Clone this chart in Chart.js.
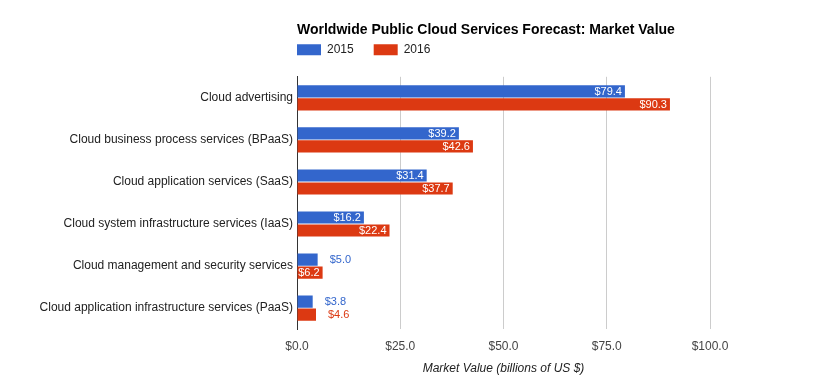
<!DOCTYPE html>
<html>
<head>
<meta charset="utf-8">
<script src="https://cdn.jsdelivr.net/npm/chart.js@4/dist/chart.umd.min.js"></script>
<style>
  html, body { margin: 0; padding: 0; background: #fff; }
  #wrap { position: relative; width: 831px; height: 388px; }
</style>
</head>
<body>
<div id="wrap"><canvas id="chart-cloud"></canvas></div>
<script>
const categories = [
  'Cloud advertising',
  'Cloud business process services (BPaaS)',
  'Cloud application services (SaaS)',
  'Cloud system infrastructure services (IaaS)',
  'Cloud management and security services',
  'Cloud application infrastructure services (PaaS)'
];
const values2015 = [79.4, 39.2, 31.4, 16.2, 5.0, 3.8];
const values2016 = [90.3, 42.6, 37.7, 22.4, 6.2, 4.6];
const xTicks = [0, 25, 50, 75, 100];

const colors = { blue: '#3366cc', red: '#dc3912', grid: '#cccccc', axis: '#333333' };
const fontFamily = 'Arial, "Liberation Sans", sans-serif';
const legendGap = 20;

// value labels: white inside the bar when it fits, coloured outside otherwise
const barLabels = {
  id: 'barLabels',
  afterDatasetsDraw(chart) {
    const ctx = chart.ctx;
    ctx.save();
    ctx.font = '11px ' + fontFamily;
    ctx.textBaseline = 'middle';
    chart.data.datasets.forEach((ds, i) => {
      chart.getDatasetMeta(i).data.forEach((bar, j) => {
        const text = '$' + ds.data[j].toFixed(1);
        const w = bar.x - bar.base;
        if (w >= 24) {
          ctx.fillStyle = '#ffffff';
          ctx.textAlign = 'right';
          ctx.fillText(text, bar.x - 3, bar.y + 0.5);
        } else {
          ctx.fillStyle = ds.backgroundColor;
          ctx.textAlign = 'left';
          ctx.fillText(text, bar.x + 12, bar.y + 0.5);
        }
      });
    });
    ctx.restore();
  }
};

// legend starts flush with the plot's left edge (undo its inner padding)
const legendShift = {
  id: 'legendShift',
  afterLayout(chart) {
    if (chart.legend) chart.legend.left -= legendGap;
  }
};

new Chart(document.getElementById('chart-cloud'), {
  type: 'bar',
  data: {
    labels: categories,
    datasets: [
      { label: '2015', data: values2015, backgroundColor: colors.blue, categoryPercentage: 0.62, barPercentage: 0.93 },
      { label: '2016', data: values2016, backgroundColor: colors.red, categoryPercentage: 0.62, barPercentage: 0.93 }
    ]
  },
  options: {
    indexAxis: 'y',
    responsive: true,
    maintainAspectRatio: false,
    animation: false,
    layout: { padding: { left: 0, right: 121, top: 0, bottom: 12 } },
    plugins: {
      title: {
        display: true,
        text: 'Worldwide Public Cloud Services Forecast: Market Value',
        align: 'start',
        fullSize: false,
        color: '#000000',
        font: { family: fontFamily, size: 14, weight: 'bold' },
        padding: { top: 22, bottom: -15 }
      },
      legend: {
        align: 'start',
        fullSize: false,
        labels: {
          boxWidth: 24,
          boxHeight: 11,
          padding: legendGap,
          color: '#222222',
          font: { family: fontFamily, size: 12 }
        }
      },
      tooltip: { enabled: false }
    },
    scales: {
      x: {
        min: 0,
        max: 100,
        afterBuildTicks: (scale) => { scale.ticks = xTicks.map(v => ({ value: v })); },
        ticks: {
          color: '#444444',
          padding: 10,
          font: { family: fontFamily, size: 12 },
          callback: (val) => '$' + Number(val).toFixed(1)
        },
        grid: {
          color: (c) => (c.tick && c.tick.value === 0 ? colors.axis : colors.grid),
          drawTicks: false
        },
        border: { display: false },
        title: {
          display: true,
          text: 'Market Value (billions of US $)',
          color: '#222222',
          font: { family: fontFamily, size: 12, style: 'italic' },
          padding: { top: -2, bottom: 0 }
        }
      },
      pad: {
        type: 'linear',
        axis: 'x',
        position: 'top',
        ticks: { display: false },
        grid: { display: false },
        border: { display: false },
        afterFit: (scale) => { scale.height = 11; }
      },
      y: {
        ticks: {
          color: '#222222',
          padding: 4,
          font: { family: fontFamily, size: 12 }
        },
        grid: { display: false, drawTicks: false },
        border: { display: true, color: colors.axis },
        afterFit: (scale) => { scale.width = 297; }
      }
    }
  },
  plugins: [barLabels, legendShift]
});
</script>
</body>
</html>
